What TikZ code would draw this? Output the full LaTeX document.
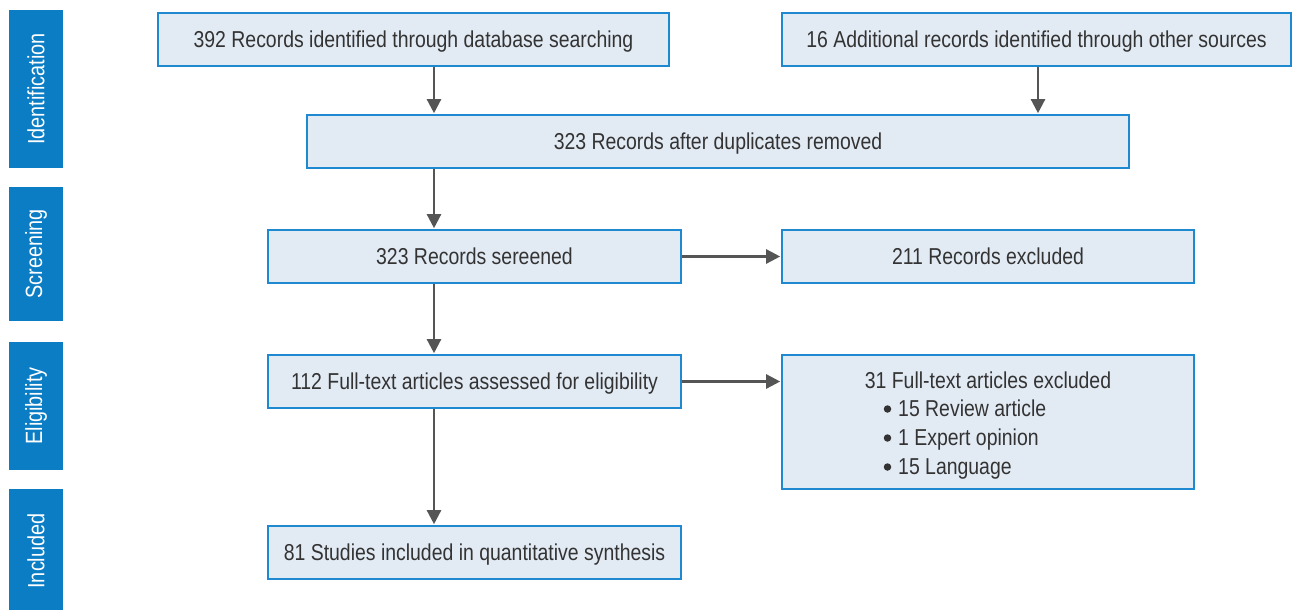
\documentclass[tikz,border=0pt]{standalone}
\usepackage{fontspec}
\setmainfont{Liberation Sans}[FakeStretch=0.845]
\usetikzlibrary{arrows.meta}
\definecolor{barblue}{HTML}{0A7DC4}
\definecolor{boxfill}{HTML}{E2EAF4}
\definecolor{boxline}{HTML}{1E88D0}
\definecolor{arrowgray}{HTML}{555555}
\definecolor{txt}{HTML}{333333}
\tikzset{
  stagebar/.style={fill=barblue, draw=none, inner sep=0pt, minimum width=54pt},
  stagelabel/.style={rotate=90, text=white, font=\fontsize{23.5}{26}\selectfont, inner sep=0pt},
  flowbox/.style={rectangle, fill=boxfill, draw=boxline, line width=1.6pt, inner sep=0pt,
    text=txt, font=\fontsize{23}{26}\selectfont, text height=16.5pt, text depth=0pt},
  itemtext/.style={text=txt, font=\fontsize{23}{26}\selectfont, inner sep=0pt,
    text height=16.5pt, text depth=0pt},
  itemdot/.style={fill=txt, draw=none, circle, inner sep=0pt, minimum size=7.5pt},
  flowarrow/.style={draw=arrowgray, line width=2.4pt, -{Triangle[length=14pt,width=14pt]}, shorten >=1pt}
}
\begin{document}
\begin{tikzpicture}[x=1pt,y=-1pt]
\useasboundingbox (0,0) rectangle (1293,610);
% stage bars on the left
\node[stagebar, minimum height=158pt] (sid) at (36,89) {};
\node[stagelabel] at (sid.center) {Identification};
\node[stagebar, minimum height=134pt] (sscr) at (36,254) {};
\node[stagelabel] at (sscr.center) {Screening};
\node[stagebar, minimum height=128pt] (selig) at (36,406) {};
\node[stagelabel] at (selig.center) {Eligibility};
\node[stagebar, minimum height=124pt] (sincl) at (36,551) {};
\node[stagelabel] at (sincl.center) {Included};
% flow boxes
\node[flowbox, minimum width=511pt, minimum height=53pt] (db) at (413.5,39.5) {392 Records identified through database searching};
\node[flowbox, minimum width=509pt, minimum height=53pt] (other) at (1036.5,39.5) {16 Additional records identified through other sources};
\node[flowbox, minimum width=822pt, minimum height=53pt] (dup) at (718,141.5) {323 Records after duplicates removed};
\node[flowbox, minimum width=413pt, minimum height=53pt] (scr) at (474.5,256.5) {323 Records sereened};
\node[flowbox, minimum width=412pt, minimum height=53pt] (exc) at (988,256.5) {211 Records excluded};
\node[flowbox, minimum width=413pt, minimum height=53pt] (full) at (474.5,381.5) {112 Full-text articles assessed for eligibility};
\node[flowbox, minimum width=412pt, minimum height=134pt] (fexc) at (988,422) {};
\node[flowbox, minimum width=413pt, minimum height=53pt] (incl) at (474.5,552.5) {81 Studies included in quantitative synthesis};
% contents of the exclusion box
\node[itemtext] (fexct) at (988,380) {31 Full-text articles excluded};
\node[itemdot] (d1) at (887.5,409) {};
\node[itemdot] (d2) at (887.5,438) {};
\node[itemdot] (d3) at (887.5,467) {};
\node[itemtext, anchor=west] (r1) at (898,408) {15 Review article};
\node[itemtext, anchor=west] (r2) at (898,437) {1 Expert opinion};
\node[itemtext, anchor=west] (r3) at (898,466) {15 Language};
% connectors
\draw[flowarrow] (db.south -| 434,0) -- (dup.north -| 434,0);
\draw[flowarrow] (other.south -| 1038,0) -- (dup.north -| 1038,0);
\draw[flowarrow] (dup.south -| 434,0) -- (scr.north -| 434,0);
\draw[flowarrow] (scr.south -| 434,0) -- (full.north -| 434,0);
\draw[flowarrow] (full.south -| 434,0) -- (incl.north -| 434,0);
\draw[flowarrow] (scr.east) -- (exc.west);
\draw[flowarrow] (full.east) -- (fexc.west |- full.east);
\end{tikzpicture}
\end{document}
